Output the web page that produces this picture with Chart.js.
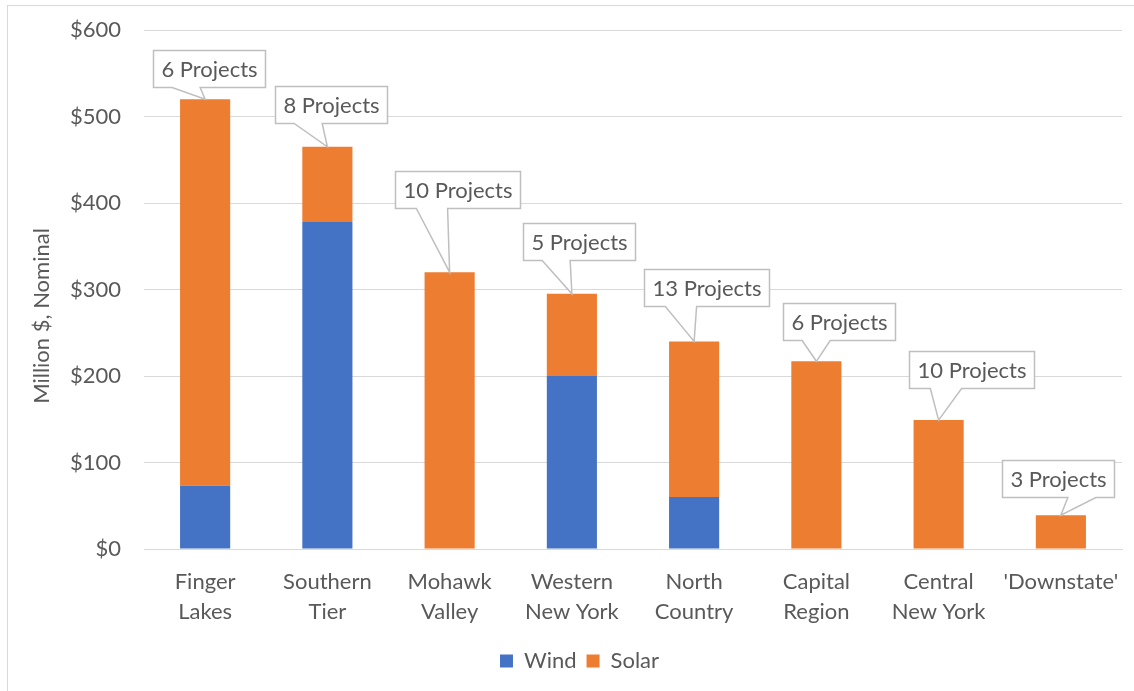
<!DOCTYPE html>
<html>
<head>
<meta charset="utf-8">
<script src="https://cdn.jsdelivr.net/npm/chart.js@4/dist/chart.umd.min.js"></script>
<style>
  html, body { margin: 0; padding: 0; background: #fff; }
  #wrap { width: 1134px; height: 691px; position: relative; }
</style>
</head>
<body>
<div id="wrap"><canvas id="regionChart" width="1134" height="691"></canvas></div>
<script>
// regions (two-line labels like the original axis)
const regions = [
    ['Finger', 'Lakes'], ['Southern', 'Tier'], ['Mohawk', 'Valley'], ['Western', 'New York'],
    ['North', 'Country'], ['Capital', 'Region'], ['Central', 'New York'], "'Downstate'"
];
const windValues = [73, 378, 0, 200, 60, 0, 0, 0];
const solarValues = [447, 87, 320, 95, 180, 217, 149, 39];
const projectCounts = [6, 8, 10, 5, 13, 6, 10, 3];
const yTicks = [0, 100, 200, 300, 400, 500, 600];
const yTitle = 'Million $, Nominal';

// where each callout box sits relative to its bar top (dx of box centre, gap above bar)
const calloutOffsets = [[4, 12], [4, 24], [8, 64], [7, 34], [12, 35], [23, 21], [33, 32], [-3, 18]];

const FONT = 'Lato, "Open Sans", sans-serif';
const TEXT_COLOR = '#595959';

// Excel-style wedge callouts
const calloutPlugin = {
    id: 'callouts',
    afterDatasetsDraw(chart) {
        const ctx = chart.ctx;
        const top = chart.getDatasetMeta(1).data;
        ctx.save();
        ctx.font = '22px ' + FONT;
        ctx.textAlign = 'center';
        ctx.textBaseline = 'middle';
        top.forEach((bar, i) => {
            const label = projectCounts[i] + ' Projects';
            const w = Math.round(ctx.measureText(label).width) + 16;
            const h = 37;
            const cx = bar.x + calloutOffsets[i][0];
            const bottom = bar.y - calloutOffsets[i][1];
            const left = Math.round(cx - w / 2) + 0.5;
            const topY = Math.round(bottom - h) + 0.5;
            const bot = topY + h;
            // wedge base like the OOXML wedgeRectCallout
            const b1 = bar.x > cx ? left + w * 7 / 12 : left + w * 2 / 12;
            const b2 = bar.x > cx ? left + w * 10 / 12 : left + w * 5 / 12;
            ctx.beginPath();
            ctx.moveTo(left, topY);
            ctx.lineTo(left + w, topY);
            ctx.lineTo(left + w, bot);
            ctx.lineTo(b2, bot);
            ctx.lineTo(bar.x, bar.y);
            ctx.lineTo(b1, bot);
            ctx.lineTo(left, bot);
            ctx.closePath();
            ctx.fillStyle = '#ffffff';
            ctx.fill();
            ctx.strokeStyle = '#bfbfbf';
            ctx.lineWidth = 1.5;
            ctx.stroke();
            ctx.fillStyle = TEXT_COLOR;
            ctx.fillText(label, left + w / 2, topY + h / 2 + 1);
        });
        ctx.restore();
    }
};

// light frame round the chart like the Excel chart border, plus the axis title
const framePlugin = {
    id: 'frame',
    afterLayout(chart) {
        // the Excel legend sits a little right of the canvas centre
        chart.legend.left += 15;
        chart.legend.right += 15;
    },
    beforeDraw(chart) {
        const ctx = chart.ctx;
        ctx.save();
        ctx.strokeStyle = '#d9d9d9';
        ctx.lineWidth = 1;
        ctx.strokeRect(7.5, 5.5, chart.width + 10, chart.height + 10);
        ctx.translate(42, 316);
        ctx.rotate(-Math.PI / 2);
        ctx.font = '22px ' + FONT;
        ctx.fillStyle = TEXT_COLOR;
        ctx.textAlign = 'center';
        ctx.textBaseline = 'middle';
        ctx.fillText(yTitle, 0, 0);
        ctx.restore();
    }
};

Chart.defaults.font.family = FONT;
Chart.defaults.color = TEXT_COLOR;

new Chart(document.getElementById('regionChart'), {
    type: 'bar',
    data: {
        labels: regions,
        datasets: [
            {
                label: 'Wind',
                data: windValues,
                backgroundColor: '#4472C4',
                borderWidth: 0,
                categoryPercentage: 1,
                barPercentage: 0.41
            },
            {
                label: 'Solar',
                data: solarValues,
                backgroundColor: '#ED7D31',
                borderWidth: 0,
                categoryPercentage: 1,
                barPercentage: 0.41
            }
        ]
    },
    options: {
        responsive: false,
        animation: false,
        devicePixelRatio: 1,
        layout: {
            padding: { left: 7, right: 12, top: 30, bottom: 9 }
        },
        plugins: {
            legend: {
                position: 'bottom',
                labels: {
                    font: { size: 22 },
                    boxWidth: 13,
                    boxHeight: 13,
                    padding: 10,
                    color: TEXT_COLOR
                }
            },
            tooltip: { enabled: false }
        },
        scales: {
            x: {
                stacked: true,
                grid: { display: false },
                border: { color: '#d9d9d9', width: 1 },
                ticks: {
                    font: { size: 22, lineHeight: 30 / 22 },
                    padding: 10,
                    maxRotation: 0,
                    autoSkip: false
                },
                afterFit(scale) {
                    scale.height = 91;
                    scale.paddingLeft = 0;
                    scale.paddingRight = 0;
                }
            },
            y: {
                stacked: true,
                min: 0,
                max: 600,
                afterBuildTicks(scale) {
                    scale.ticks = yTicks.map(v => ({ value: v }));
                },
                grid: { color: '#d9d9d9', lineWidth: 1, drawTicks: false },
                border: { display: false },
                ticks: {
                    font: { size: 22 },
                    padding: 23,
                    callback: v => '$' + v
                },
                afterFit(scale) {
                    scale.width = 137;
                    scale.paddingTop = 0;
                    scale.paddingBottom = 0;
                }
            }
        }
    },
    plugins: [framePlugin, calloutPlugin]
});
</script>
</body>
</html>
